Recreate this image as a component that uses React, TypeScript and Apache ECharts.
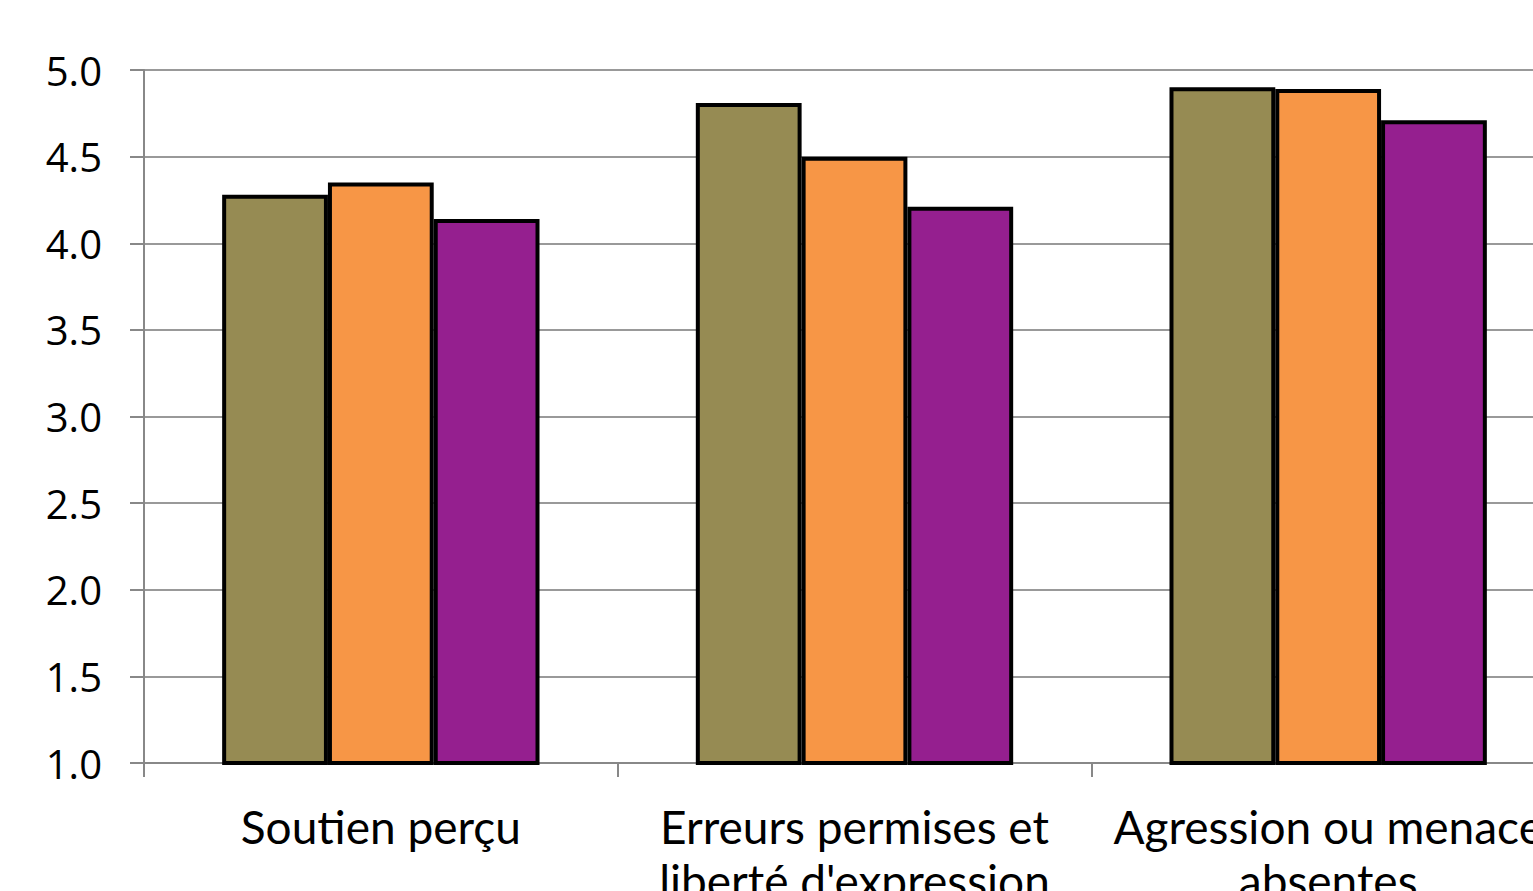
import React, { useEffect, useRef } from "react";
import * as echarts from "echarts";

const categories = ["Soutien perçu", "Erreurs permises et\nliberté d'expression", "Agression ou menace\nabsentes"];
const series1 = [4.28, 4.81, 4.9];
const series2 = [4.35, 4.5, 4.89];
const series3 = [4.14, 4.21, 4.71];
const seriesNames = ["Série 1", "Série 2", "Série 3"];
const colors = ["#968B53", "#F79646", "#951F8F"];

export default function App() {
  const ref = useRef<HTMLDivElement>(null);
  useEffect(() => {
    if (!ref.current) return;
    const chart = echarts.init(ref.current, undefined, { renderer: "svg" });
    const data = [series1, series2, series3];
    chart.setOption({
      animation: false,
      grid: { left: 144, top: 70, bottom: 128, right: 0, containLabel: false, outerBoundsMode: "none" },
      xAxis: {
        type: "category",
        data: categories,
        axisLine: { lineStyle: { color: "#888888", width: 2 } },
        axisTick: { show: true, length: 14, lineStyle: { color: "#888888", width: 2 } },
        axisLabel: {
          color: "#000",
          fontFamily: "Lato",
          fontSize: 46,
          lineHeight: 54,
          margin: 36,
          interval: 0,
        },
      },
      yAxis: {
        type: "value",
        min: 1,
        max: 5,
        interval: 0.5,
        axisLine: { show: true, lineStyle: { color: "#888888", width: 2 } },
        axisTick: { show: true, length: 14, lineStyle: { color: "#888888", width: 2 } },
        splitLine: { show: true, lineStyle: { color: "#999999", width: 2 } },
        axisLabel: {
          color: "#000",
          fontFamily: "Open Sans",
          fontSize: 40,
          margin: 42,
          formatter: (v: number) => v.toFixed(1),
        },
      },
      series: data.map((d, i) => ({
        type: "bar",
        name: seriesNames[i],
        data: d,
        barGap: "0%",
        barCategoryGap: "33%",
        itemStyle: { color: colors[i], borderColor: "#000", borderWidth: 4 },
      })),
    });
    return () => chart.dispose();
  }, []);
  return (
    <div style={{ position: "absolute", left: 0, top: 0, width: 1533, height: 891, overflow: "hidden", background: "#fff" }}>
      <div ref={ref} style={{ width: 1565, height: 891 }} />
    </div>
  );
}
